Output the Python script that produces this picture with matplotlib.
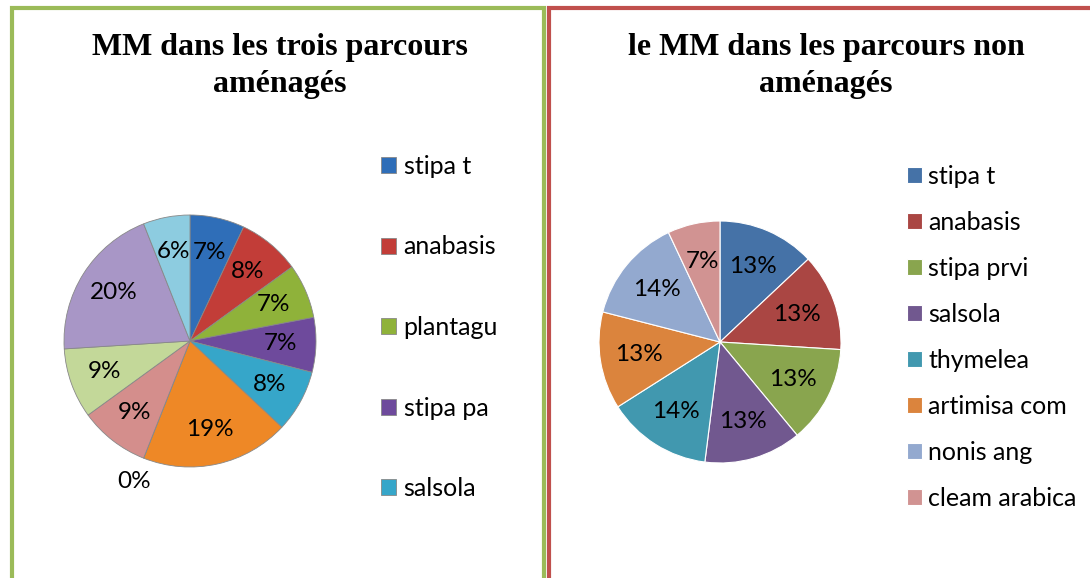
import matplotlib.pyplot as plt
from matplotlib.patches import Rectangle

# Left chart: parcours aménagés
labels_a = ["stipa t", "anabasis", "plantagu", "stipa pa", "salsola",
            "artimisa", "autre", "nonis", "cleam", "thymelea", "stipa prvi"]
values_a = [7, 8, 7, 7, 8, 19, 0, 9, 9, 20, 6]
colors_a = ["#2F6EB8", "#C23D38", "#8FB23A", "#6E4A9C", "#36A6C9",
            "#EE8826", "#F2C14E", "#D48E8C", "#C3D899", "#A896C6", "#8DCCE0"]

# Right chart: parcours non aménagés
labels_b = ["stipa t", "anabasis", "stipa prvi", "salsola", "thymelea",
            "artimisa com", "nonis ang", "cleam arabica"]
values_b = [13, 13, 13, 13, 14, 13, 14, 7]
colors_b = ["#4572A7", "#AA4643", "#89A54E", "#71588F", "#4198AF",
            "#DB843D", "#93A9CF", "#D19392"]

W, H = 1090, 578
fig = plt.figure(figsize=(W / 100, H / 100), dpi=100)
fig.patch.set_facecolor("white")

def px_axes(cx, cy, r):
    return fig.add_axes([(cx - r) / W, (H - cy - r) / H, 2 * r / W, 2 * r / H])

lab_font = "Lato"

# panel frames
fig.add_artist(Rectangle((12 / W, -0.05), (544 - 12) / W, (H - 7.5) / H + 0.05,
                         transform=fig.transFigure, fill=False,
                         edgecolor="#9BBB59", linewidth=3.0))
fig.add_artist(Rectangle((549 / W, -0.05), 0.6, (H - 7.5) / H + 0.05,
                         transform=fig.transFigure, fill=False,
                         edgecolor="#C0504D", linewidth=3.0))

# titles
fig.text(280 / W, 1 - 66 / H, "MM dans les trois parcours\naménagés",
         ha="center", va="center", fontsize=23, fontweight="bold",
         family="Liberation Serif", linespacing=1.35)
fig.text(826 / W, 1 - 66 / H, "le MM dans les parcours non\naménagés",
         ha="center", va="center", fontsize=23, fontweight="bold",
         family="Liberation Serif", linespacing=1.35)

# left pie
ax1 = px_axes(190, 341, 126)
w1, t1, a1 = ax1.pie(values_a, colors=colors_a, startangle=90, counterclock=False,
                     autopct="%1.0f%%", pctdistance=0.72,
                     wedgeprops=dict(edgecolor="#888888", linewidth=0.6),
                     textprops=dict(fontsize=17.5, family=lab_font))
for v, txt in zip(values_a, a1):
    if v == 0:
        x, y = txt.get_position()
        n = (x * x + y * y) ** 0.5
        txt.set_position((x / n * 1.2, y / n * 1.2))
ax1.set_xlim(-1, 1)
ax1.set_ylim(-1, 1)
ax1.set_aspect("equal")
ax1.axis("off")

fig.legend(w1[:5], labels_a[:5], loc="upper left",
           bbox_to_anchor=(381 / W, 1 - 155 / H), frameon=False,
           prop=dict(family=lab_font, size=18), labelspacing=2.3,
           handlelength=0.6, handleheight=0.6, handletextpad=0.3,
           borderpad=0, borderaxespad=0)

# right pie
ax2 = px_axes(720, 342, 121)
w2, t2, a2 = ax2.pie(values_b, colors=colors_b, startangle=90, counterclock=False,
                     autopct="%1.0f%%", pctdistance=0.68,
                     wedgeprops=dict(edgecolor="white", linewidth=0.8),
                     textprops=dict(fontsize=17.5, family=lab_font))
ax2.set_xlim(-1, 1)
ax2.set_ylim(-1, 1)
ax2.set_aspect("equal")
ax2.axis("off")

fig.legend(w2, labels_b, loc="upper left",
           bbox_to_anchor=(907 / W, 1 - 165 / H), frameon=False,
           prop=dict(family=lab_font, size=18), labelspacing=0.92,
           handlelength=0.6, handleheight=0.6, handletextpad=0.25,
           borderpad=0, borderaxespad=0)

fig.savefig("out.png", dpi=100)
